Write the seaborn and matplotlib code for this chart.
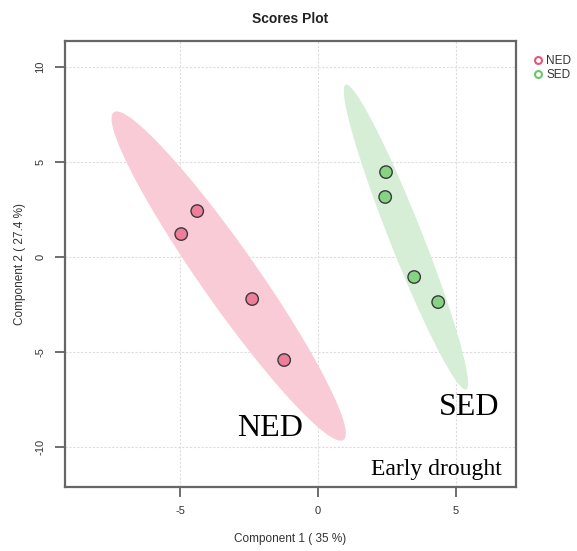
import numpy as np
import pandas as pd
import matplotlib
matplotlib.use("Agg")
import matplotlib.pyplot as plt
from matplotlib.lines import Line2D
from matplotlib.patches import Polygon
import seaborn as sns

# PLS-DA scores, two groups
groups = ["NED", "NED", "NED", "NED", "SED", "SED", "SED", "SED"]
comp1 = [-4.38, -4.96, -2.39, -1.23, 2.46, 2.43, 3.48, 4.35]
comp2 = [2.42, 1.21, -2.21, -5.42, 4.47, 3.16, -1.05, -2.37]
group_names = ["NED", "SED"]
point_colors = ["#EE7D99", "#86D386"]
ellipse_colors = ["#F8CBD6", "#D6EED6"]
x_ticks = [-5, 0, 5]
y_ticks = [-10, -5, 0, 5, 10]

df = pd.DataFrame({"group": groups, "c1": comp1, "c2": comp2})

sns.set_style("white")
plt.rcParams["font.family"] = ["Liberation Sans", "DejaVu Sans"]

fig = plt.figure(figsize=(5.77, 5.51), dpi=100)
ax = fig.add_axes([0.1127, 0.1162, 0.7816, 0.8094])

# 95% confidence ellipses from each group's covariance
chi2_95 = -2.0 * np.log(0.05)
t = np.linspace(0, 2 * np.pi, 200)
for g, col in zip(group_names, ellipse_colors):
    sub = df[df["group"] == g]
    xy = sub[["c1", "c2"]].to_numpy()
    mu = xy.mean(axis=0)
    cov = np.cov(xy.T)
    vals, vecs = np.linalg.eigh(cov)
    circle = np.vstack([np.cos(t), np.sin(t)])
    pts = (vecs @ np.diag(np.sqrt(vals * chi2_95)) @ circle).T + mu
    ax.add_patch(Polygon(pts, closed=True, facecolor=col, edgecolor="none", zorder=1))

sns.scatterplot(data=df, x="c1", y="c2", hue="group", hue_order=group_names,
                palette=point_colors, s=80, edgecolor="#3a3a3a", linewidth=1.0,
                legend=False, ax=ax, zorder=3)

ax.set_xlim(-9.17, 7.17)
ax.set_ylim(-12.1, 11.37)
ax.set_xticks(x_ticks)
ax.set_yticks(y_ticks)
ax.set_xticklabels([str(v) for v in x_ticks], fontsize=8, color="#333333")
ax.set_yticklabels([str(v) for v in y_ticks], fontsize=8, color="#333333",
                   rotation=90, va="center")
ax.tick_params(axis="both", direction="out", length=7, width=1.2,
               color="#555555", pad=7, left=True, bottom=True)
for v in x_ticks:
    ax.axvline(v, color="#DDDDDD", lw=0.8, ls=(0, (2, 1.5)), zorder=0)
for v in y_ticks:
    ax.axhline(v, color="#DDDDDD", lw=0.8, ls=(0, (2, 1.5)), zorder=0)
for sp in ax.spines.values():
    sp.set_color("#666666")
    sp.set_linewidth(1.6)

ax.set_xlabel("Component 1 ( 35 %)", fontsize=8.5, color="#333333", labelpad=12)
ax.set_ylabel("Component 2 ( 27.4 %)", fontsize=8.5, color="#333333", labelpad=7)
ax.set_title("Scores Plot", fontsize=10, fontweight="bold", color="#222222", pad=13)

# group labels and stage annotation
serif = ["Liberation Serif", "DejaVu Serif"]
ax.text(-1.74, -9.0, "NED", fontsize=23, family=serif, color="black",
        ha="center", va="center")
ax.text(5.47, -7.9, "SED", fontsize=23, family=serif, color="black",
        ha="center", va="center")
ax.text(4.28, -11.2, "Early drought", fontsize=17, family=serif, color="black",
        ha="center", va="center")

handles = [Line2D([0], [0], marker="o", ls="none", markerfacecolor="none",
                  markeredgecolor=c, markeredgewidth=1.5, markersize=5)
           for c in ["#E8557A", "#6CC56C"]]
leg = fig.legend(handles, group_names, loc="upper left", bbox_to_anchor=(0.912, 0.91),
                 frameon=False, fontsize=8.5, handletextpad=0.2, borderpad=0,
                 labelspacing=0.1, handlelength=1.0)
for txt in leg.get_texts():
    txt.set_color("#333333")

fig.savefig("out.png", dpi=100)
